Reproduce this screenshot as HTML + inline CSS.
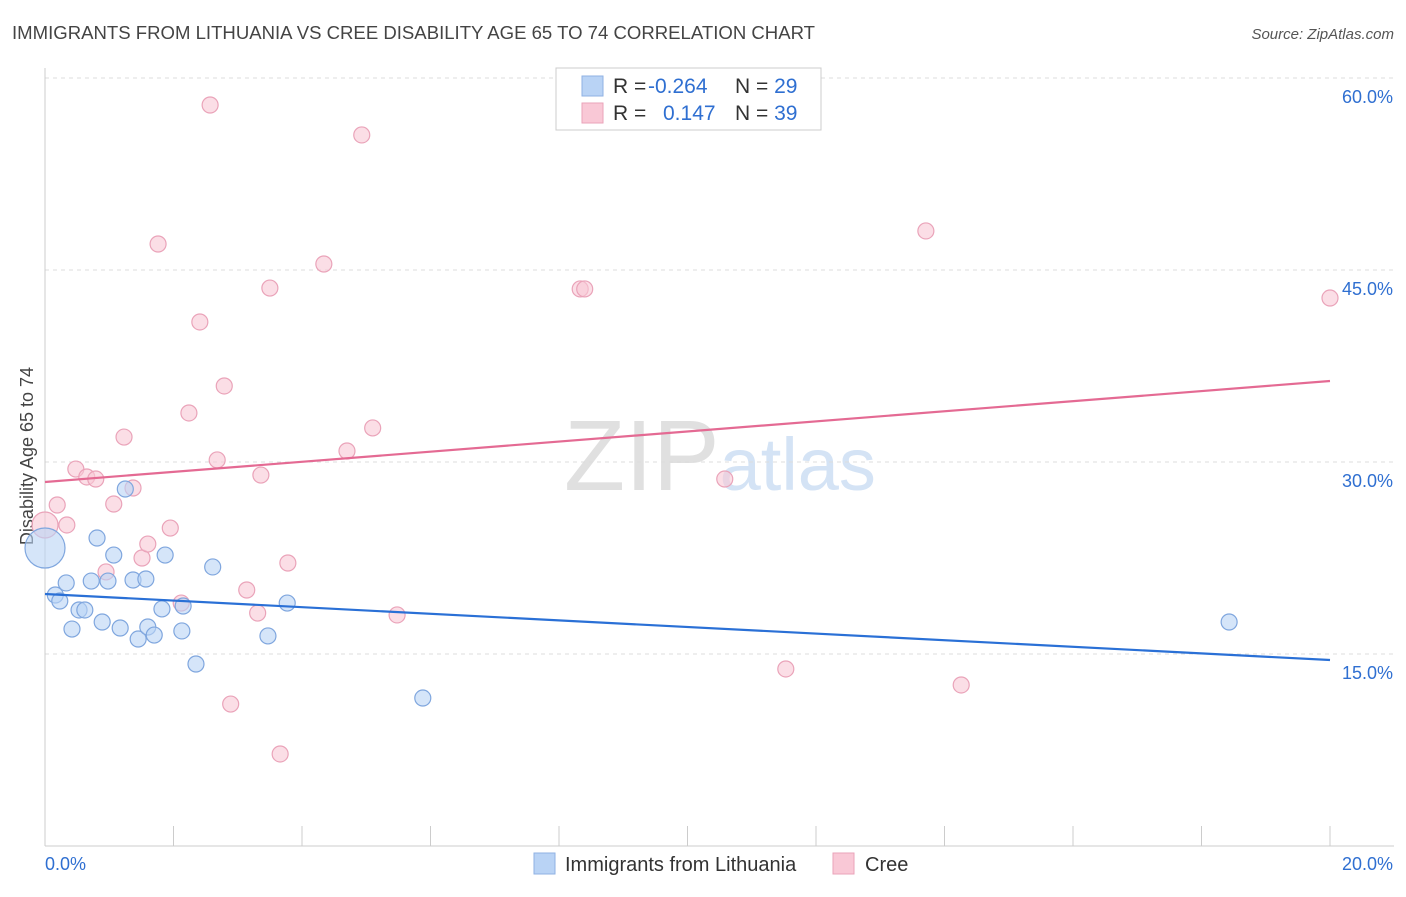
<!DOCTYPE html>
<html><head><meta charset="utf-8"><style>
body{margin:0;background:#fff;font-family:"Liberation Sans",sans-serif;}
svg text{font-family:"Liberation Sans",sans-serif;}
</style></head><body>
<svg id="chart" width="1406" height="892" xmlns="http://www.w3.org/2000/svg">
<text x="12" y="39" font-size="18" fill="#444" textLength="803" lengthAdjust="spacingAndGlyphs">IMMIGRANTS FROM LITHUANIA VS CREE DISABILITY AGE 65 TO 74 CORRELATION CHART</text>
<text x="1394" y="39" font-size="15" fill="#555" text-anchor="end" font-style="italic">Source: ZipAtlas.com</text>
<text x="720" y="490" font-size="100" text-anchor="middle" fill="#e4e4e4" font-family="Liberation Serif"><tspan fill="#e0e0e0">ZIP</tspan><tspan fill="#d4e3f5" font-family="Liberation Sans" font-size="74">atlas</tspan></text>
<text transform="translate(33,456) rotate(-90)" font-size="18" fill="#444" text-anchor="middle">Disability Age 65 to 74</text>
<g id="grid"></g>
<g id="axes"></g>
<g id="marks"></g>
<g>
<rect x="556" y="68" width="265" height="62" fill="#fff" stroke="#ccc"/>
<rect x="582" y="76" width="21" height="20" fill="#b9d3f5" stroke="#8fb2e3"/>
<rect x="582" y="103" width="21" height="20" fill="#f9c8d6" stroke="#eaa3b9"/>
<text x="613" y="93" font-size="21" fill="#333">R = <tspan x="648" fill="#2f6fd1">-0.264</tspan><tspan x="735">N = </tspan><tspan fill="#2f6fd1">29</tspan></text>
<text x="613" y="120" font-size="21" fill="#333">R = <tspan x="663" fill="#2f6fd1">0.147</tspan><tspan x="735">N = </tspan><tspan fill="#2f6fd1">39</tspan></text>
</g>
<g>
<rect x="534" y="853" width="21" height="21" fill="#b9d3f5" stroke="#8fb2e3"/>
<text x="565" y="871" font-size="20" fill="#333">Immigrants from Lithuania</text>
<rect x="833" y="853" width="21" height="21" fill="#f9c8d6" stroke="#eaa3b9"/>
<text x="865" y="871" font-size="20" fill="#333">Cree</text>
</g>
</svg>
<script>
const yTicks=[15,30,45,60];
const yTickLabels=["15.0%","30.0%","45.0%","60.0%"];
const xTickCount=10;
const xEndLabels=["0.0%","20.0%"];
const blueX=[0,0.16,0.23,0.33,0.42,0.53,0.62,0.72,0.81,0.89,0.98,1.07,1.17,1.25,1.37,1.45,1.57,1.60,1.70,1.82,1.87,2.13,2.15,2.35,2.61,3.47,3.77,5.88,18.43];
const blueY=[23.28,19.61,19.14,20.55,16.95,18.44,18.44,20.70,24.06,17.50,20.70,22.73,17.03,27.89,20.78,16.17,20.86,17.11,16.48,18.52,22.73,16.80,18.75,14.22,21.80,16.41,18.98,11.56,17.50];
const pinkX=[0,0.19,0.34,0.48,0.65,0.79,0.95,1.07,1.23,1.37,1.51,1.60,1.76,1.95,2.12,2.24,2.41,2.57,2.68,2.79,2.89,3.14,3.31,3.36,3.50,3.66,3.78,4.34,4.70,4.93,5.10,5.48,8.33,8.40,10.58,11.53,13.71,14.26,20.0];
const pinkY=[25.08,26.64,25.08,29.45,28.83,28.67,21.41,26.72,31.95,27.97,22.50,23.59,47.03,24.84,18.98,33.83,40.94,57.89,30.16,35.94,11.09,20.00,18.20,28.98,43.59,7.19,22.11,45.47,30.86,55.55,32.66,18.05,43.52,43.52,28.67,13.83,48.05,12.58,42.81];
const blueTrend=[19.69,14.53];
const pinkTrend=[28.44,36.33];
const NS="http://www.w3.org/2000/svg";
const X=v=>45+v/20*1285;
const Y=v=>846-v/15*192;
function mk(tag,attrs,parent){const e=document.createElementNS(NS,tag);for(const k in attrs)e.setAttribute(k,attrs[k]);document.getElementById(parent).appendChild(e);return e;}
yTicks.forEach((t,i)=>{
 const l=mk('line',{x1:45,x2:1394,y1:Y(t),y2:Y(t),stroke:'#ddd','stroke-dasharray':'4,4'},'grid');
 
 
 const tx=mk('text',{x:1393,y:Y(t)+25,'font-size':18,fill:'#2f6fd1','text-anchor':'end'},'axes');
 tx.textContent=yTickLabels[i];
 
 
});
const ya=mk('line',{x1:45,x2:45,y1:68,y2:846,stroke:'#ccc'},'axes');


const xa=mk('line',{x1:45,x2:1394,y1:846,y2:846,stroke:'#ccc'},'axes');


for(let i=0;i<=xTickCount;i++){
 const v=20*i/xTickCount;
 const t=mk('line',{x1:X(v),x2:X(v),y1:826,y2:846,stroke:'#ccc'},'axes');
 
 
}
xEndLabels.forEach((s,i)=>{
 const t=mk('text',{x:i?1393:45,y:870,'font-size':18,fill:'#2f6fd1','text-anchor':i?'end':'start'},'axes');
 t.textContent=s;
 
 
});
pinkX.forEach((x,i)=>{
 const c=mk('circle',{cx:X(x),cy:Y(pinkY[i]),r:i===0?13:8,fill:'#f9c8d6','fill-opacity':0.6,stroke:'#eaa3b9','stroke-width':1.2},'marks');
 
 
});
blueX.forEach((x,i)=>{
 const c=mk('circle',{cx:X(x),cy:Y(blueY[i]),r:i===0?20:8,fill:'#b9d3f5','fill-opacity':0.6,stroke:'#7fa6de','stroke-width':1.2},'marks');
 
 
});
const bl=mk('line',{x1:X(0),x2:X(20),y1:Y(blueTrend[0]),y2:Y(blueTrend[1]),stroke:'#2a70d6','stroke-width':2.2},'marks');


const pl=mk('line',{x1:X(0),x2:X(20),y1:Y(pinkTrend[0]),y2:Y(pinkTrend[1]),stroke:'#e46a93','stroke-width':2.2},'marks');


</script>
</body></html>
